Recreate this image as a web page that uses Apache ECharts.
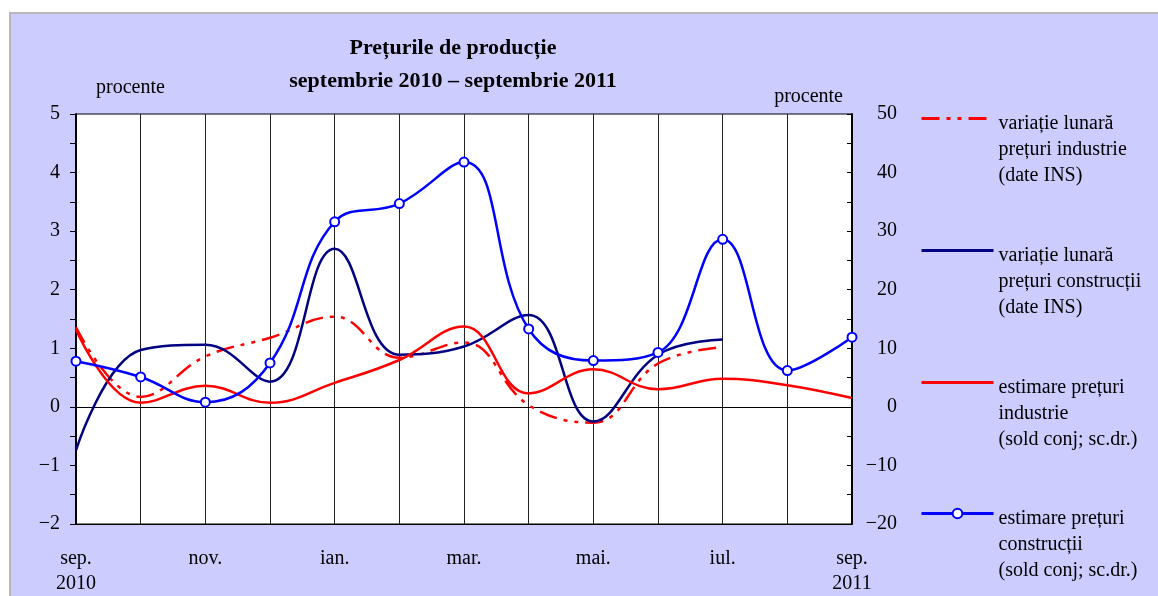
<!DOCTYPE html>
<html>
<head>
<meta charset="utf-8">
<script src="https://cdn.jsdelivr.net/npm/echarts@6/dist/echarts.min.js"></script>
<style>
  html, body { margin: 0; padding: 0; background: #ffffff; }
  #frame {
    position: absolute; left: 9px; top: 12px; right: 0; bottom: 0;
    background: #ccccff;
    border-left: 2px solid #b8b8b8;
    border-top: 2px solid #b8b8b8;
  }
  #chart { position: absolute; left: 0; top: 0; width: 1158px; height: 596px; }
</style>
</head>
<body>
<div id="frame"></div>
<div id="chart"></div>
<script>
// luni, sep 2010 - sep 2011
const months = ['sep. 2010', 'oct. 2010', 'nov. 2010', 'dec. 2010', 'ian. 2011', 'feb. 2011', 'mar. 2011',
  'apr. 2011', 'mai. 2011', 'iun. 2011', 'iul. 2011', 'aug. 2011', 'sep. 2011'];
const tickLabels = ['sep.\n2010', '', 'nov.', '', 'ian.', '', 'mar.', '', 'mai.', '', 'iul.', '', 'sep.\n2011'];

const seriesNames = [
  'variație lunară\nprețuri industrie\n(date INS)',
  'variație lunară\nprețuri construcții\n(date INS)',
  'estimare prețuri\nindustrie\n(sold conj; sc.dr.)',
  'estimare prețuri\nconstrucții\n(sold conj; sc.dr.)'
];

// procente, scala stanga
const variatieIndustrie = [1.36, 0.17, 0.86, 1.18, 1.54, 0.84, 1.10, 0.03, -0.27, 0.74, 1.02, null, null];
const variatieConstructii = [-0.74, 0.97, 1.06, 0.43, 2.70, 0.89, 1.03, 1.57, -0.25, 0.89, 1.15, null, null];
// sold conjunctural, scala dreapta
const estimareIndustrie = [13.2, 0.7, 3.6, 0.7, 4.1, 8.0, 13.7, 2.3, 6.4, 3.0, 4.8, 3.7, 1.5];
const estimareConstructii = [7.8, 5.1, 0.8, 7.5, 31.6, 34.7, 41.8, 13.3, 7.9, 9.3, 28.6, 6.2, 11.9];

const legendIconY = [118, 250, 382, 513];
const legendHasMarker = [false, false, false, true];

const chartDom = document.getElementById('chart');
const myChart = echarts.init(chartDom, null, { renderer: 'canvas' });

const fontFamily = '"Liberation Serif", "DejaVu Serif", serif';
const textColor = '#000000';
const lineHeight = 26;
const gapHeight = 31;
const smoothness = 0.42;

const minus = (s) => String(s).replace('-', '\u2212');

// two spacer lines above the name, so the first line sits level with the icon
const legendText = (n) => '{gap| }\n{gap| }\n' + n.split('\n').map((l) => '{t|' + l + '}').join('\n');

const legends = seriesNames.map((name, i) => ({
  data: [name],
  orient: 'vertical',
  left: 920,
  top: legendIconY[i] - (2 * gapHeight + 3 * lineHeight) / 2 + 6,
  padding: 0,
  itemWidth: 72,
  itemHeight: 12,
  itemGap: 0,
  selectedMode: false,
  itemStyle: legendHasMarker[i] ? {} : { opacity: 0 },
  lineStyle: { width: 3 },
  formatter: legendText,
  textStyle: {
    color: textColor,
    fontFamily: fontFamily,
    fontSize: 20,
    rich: {
      gap: { fontSize: 20, lineHeight: gapHeight, fontFamily: fontFamily },
      t: { fontSize: 20, lineHeight: lineHeight, fontFamily: fontFamily, color: textColor }
    }
  }
}));

const option = {
  animation: false,
  backgroundColor: 'transparent',
  textStyle: { fontFamily: fontFamily },
  title: {
    text: 'Prețurile de producție\nseptembrie 2010 – septembrie 2011',
    left: 453,
    top: 32,
    padding: 0,
    textAlign: 'center',
    textStyle: {
      color: textColor,
      fontFamily: fontFamily,
      fontWeight: 'bold',
      fontSize: 22,
      lineHeight: 33
    }
  },
  legend: legends,
  grid: {
    left: 76,
    right: 306,
    top: 114,
    bottom: 72,
    show: true,
    backgroundColor: '#ffffff',
    borderColor: '#000000',
    borderWidth: 1
  },
  xAxis: [
    {
      type: 'category',
      data: months,
      boundaryGap: false,
      position: 'bottom',
      axisLine: { onZero: false, lineStyle: { color: '#000000', width: 1 } },
      axisTick: { show: false },
      axisLabel: {
        interval: 0,
        margin: 22,
        color: textColor,
        fontFamily: fontFamily,
        fontSize: 20,
        lineHeight: 25,
        formatter: (value, index) => tickLabels[index]
      },
      splitLine: { show: true, lineStyle: { color: '#222222', width: 1 } }
    },
    {
      // linia de zero
      type: 'category',
      data: months,
      boundaryGap: false,
      position: 'top',
      axisLine: { onZero: true, onZeroAxisIndex: 0, lineStyle: { color: '#000000', width: 1 } },
      axisTick: { show: false },
      axisLabel: { show: false },
      splitLine: { show: false }
    }
  ],
  yAxis: [
    {
      type: 'value',
      min: -2,
      max: 5,
      interval: 0.5,
      position: 'left',
      name: 'procente',
      nameLocation: 'end',
      nameGap: 16,
      nameTextStyle: {
        color: textColor,
        fontFamily: fontFamily,
        fontSize: 20,
        align: 'left',
        padding: [0, 0, 0, 20]
      },
      axisLine: { show: true, lineStyle: { color: '#000000', width: 2 } },
      axisTick: { show: true, inside: false, length: 6, lineStyle: { color: '#000000' } },
      axisLabel: {
        margin: 16,
        color: textColor,
        fontFamily: fontFamily,
        fontSize: 20,
        formatter: (v) => (Number.isInteger(v) ? minus(v) : '')
      },
      splitLine: { show: false }
    },
    {
      type: 'value',
      min: -20,
      max: 50,
      interval: 5,
      position: 'right',
      name: 'procente',
      nameLocation: 'end',
      nameGap: 7,
      nameTextStyle: {
        color: textColor,
        fontFamily: fontFamily,
        fontSize: 20,
        align: 'right',
        padding: [0, 9, 0, 0]
      },
      axisLine: { show: true, lineStyle: { color: '#000000', width: 2 } },
      axisTick: { show: true, inside: true, length: 5, lineStyle: { color: '#000000' } },
      axisLabel: {
        margin: 45,
        align: 'right',
        color: textColor,
        fontFamily: fontFamily,
        fontSize: 20,
        formatter: (v) => (v % 10 === 0 ? minus(v) : '')
      },
      splitLine: { show: false }
    }
  ],
  series: [
    {
      name: seriesNames[0],
      type: 'line',
      yAxisIndex: 0,
      data: variatieIndustrie,
      smooth: smoothness,
      symbol: 'none',
      lineStyle: { color: '#ff0000', width: 2.5, type: [18, 7, 4, 7, 4, 7] },
      itemStyle: { color: '#ff0000' }
    },
    {
      name: seriesNames[1],
      type: 'line',
      yAxisIndex: 0,
      data: variatieConstructii,
      smooth: smoothness,
      symbol: 'none',
      lineStyle: { color: '#000080', width: 2.5 },
      itemStyle: { color: '#000080' }
    },
    {
      name: seriesNames[2],
      type: 'line',
      yAxisIndex: 1,
      data: estimareIndustrie,
      smooth: smoothness,
      symbol: 'none',
      lineStyle: { color: '#ff0000', width: 2.5 },
      itemStyle: { color: '#ff0000' }
    },
    {
      name: seriesNames[3],
      type: 'line',
      yAxisIndex: 1,
      data: estimareConstructii,
      smooth: smoothness,
      symbol: 'emptyCircle',
      symbolSize: 9,
      showSymbol: true,
      lineStyle: { color: '#0000ff', width: 2.5 },
      itemStyle: { color: '#0000ff', borderWidth: 2.5 }
    }
  ]
};

myChart.setOption(option);
</script>
</body>
</html>
